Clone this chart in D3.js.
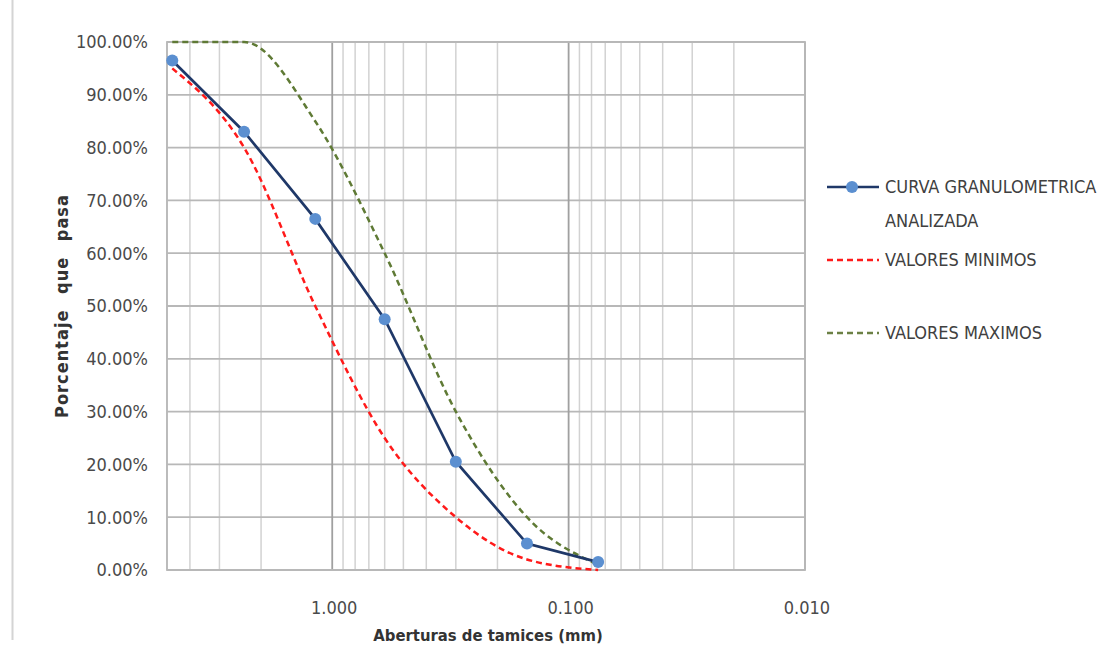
<!DOCTYPE html>
<html>
<head>
<meta charset="utf-8">
<script src="https://cdn.jsdelivr.net/npm/d3@7"></script>
<style>
  body { margin: 0; background: #fff; }
  text { font-family: "Liberation Sans Narrow", "DejaVu Sans Condensed", "Liberation Sans", sans-serif; }
</style>
</head>
<body>
<script>
// sieve openings (mm) and percent passing
var sieves = [4.75, 2.36, 1.18, 0.6, 0.3, 0.15, 0.075];
var curva = [96.5, 83, 66.5, 47.5, 20.5, 5, 1.5];
var minimos = [95, 80, 50, 25, 10, 2, 0];
var maximos = [100, 100, 85, 60, 30, 10, 1];
var xTickValues = [1, 0.1, 0.01];
var yTickValues = [0, 10, 20, 30, 40, 50, 60, 70, 80, 90, 100];
var legendLabels = [["CURVA GRANULOMETRICA", "ANALIZADA"], ["VALORES MINIMOS"], ["VALORES MAXIMOS"]];

var width = 1110, height = 645;
var pLeft = 167, pRight = 805, pTop = 42, pBottom = 570;

var svg = d3.select("body").append("svg")
  .attr("width", width)
  .attr("height", height);

// left frame line of the original picture
svg.append("line")
  .attr("x1", 12.5).attr("x2", 12.5)
  .attr("y1", 0).attr("y2", 640)
  .style("stroke", "#d4d4d4")
  .style("stroke-width", 2);

var x = d3.scaleLog().domain([5, 0.01]).range([pLeft, pRight]);
var y = d3.scaleLinear().domain([0, 100]).range([pBottom, pTop]);

// vertical grid, minor first then decades
var isDecade = function(v) { return Math.abs(Math.log10(v) - Math.round(Math.log10(v))) < 1e-9; };
var vt = x.ticks();
svg.append("g").selectAll("line")
    .data(vt.filter(function(v) { return !isDecade(v); }))
  .enter().append("line")
    .attr("x1", function(d) { return x(d); })
    .attr("x2", function(d) { return x(d); })
    .attr("y1", pTop).attr("y2", pBottom)
    .style("stroke", "#d2d2d2")
    .style("stroke-width", 1.5);

svg.append("g").selectAll("line")
    .data(yTickValues)
  .enter().append("line")
    .attr("x1", pLeft).attr("x2", pRight)
    .attr("y1", function(d) { return y(d); })
    .attr("y2", function(d) { return y(d); })
    .style("stroke", "#b8b8b8")
    .style("stroke-width", 1.8);

svg.append("g").selectAll("line")
    .data(vt.filter(isDecade))
  .enter().append("line")
    .attr("x1", function(d) { return x(d); })
    .attr("x2", function(d) { return x(d); })
    .attr("y1", pTop).attr("y2", pBottom)
    .style("stroke", "#a0a0a0")
    .style("stroke-width", 1.8);

svg.append("rect")
  .attr("x", pLeft).attr("y", pTop)
  .attr("width", pRight - pLeft).attr("height", pBottom - pTop)
  .style("fill", "none")
  .style("stroke", "#b8b8b8")
  .style("stroke-width", 1.8);

// tick labels
svg.append("g").selectAll("text")
    .data(yTickValues)
  .enter().append("text")
    .attr("x", 148)
    .attr("y", function(d) { return y(d); })
    .attr("dy", "0.35em")
    .style("text-anchor", "end")
    .style("font-size", "18px")
    .style("fill", "#4a4a4a")
    .text(function(d) { return d.toFixed(2) + "%"; });

svg.append("g").selectAll("text")
    .data(xTickValues)
  .enter().append("text")
    .attr("x", function(d) { return x(d) + 2; })
    .attr("y", 608)
    .attr("dy", "0.35em")
    .style("text-anchor", "middle")
    .style("font-size", "18px")
    .style("fill", "#4a4a4a")
    .text(function(d) { return d.toFixed(3); });

// axis titles
svg.append("text")
  .attr("x", 488).attr("y", 635)
  .attr("dy", "0.35em")
  .style("text-anchor", "middle")
  .style("font-size", "16.5px")
  .style("font-weight", "bold")
  .style("fill", "#333")
  .text("Aberturas de tamices (mm)");

svg.append("text")
  .attr("transform", "translate(62," + ((pTop + pBottom) / 2) + ") rotate(-90)")
  .attr("dy", "0.35em")
  .style("text-anchor", "middle")
  .style("font-size", "18px")
  .style("font-weight", "bold")
  .style("fill", "#333")
  .style("letter-spacing", "1px")
  .style("word-spacing", "9px")
  .text("Porcentaje que pasa");

// series
var pts = function(vals) { return sieves.map(function(s, i) { return [x(s), y(vals[i])]; }); };
var smooth = d3.line().curve(d3.curveMonotoneX);
var straight = d3.line();

svg.append("path")
  .attr("d", smooth(pts(minimos)))
  .style("fill", "none")
  .style("stroke", "#ff1a1a")
  .style("stroke-width", 2.5)
  .style("stroke-dasharray", "6,4");

svg.append("path")
  .attr("d", smooth(pts(maximos)))
  .style("fill", "none")
  .style("stroke", "#5f7a35")
  .style("stroke-width", 2.5)
  .style("stroke-dasharray", "6,4");

svg.append("path")
  .attr("d", straight(pts(curva)))
  .style("fill", "none")
  .style("stroke", "#1f3868")
  .style("stroke-width", 2.7);

svg.append("g").selectAll("circle")
    .data(pts(curva))
  .enter().append("circle")
    .attr("cx", function(d) { return d[0]; })
    .attr("cy", function(d) { return d[1]; })
    .attr("r", 6)
    .style("fill", "#5b8fd0");

// legend
var lg = svg.append("g");
var ly = [187, 260, 333];
var lstyles = [
  { color: "#1f3868", dash: null },
  { color: "#ff1a1a", dash: "6,4" },
  { color: "#6b8045", dash: "6,4" }
];
lstyles.forEach(function(s, i) {
  lg.append("line")
    .attr("x1", 827).attr("x2", 879)
    .attr("y1", ly[i]).attr("y2", ly[i])
    .style("stroke", s.color)
    .style("stroke-width", 2.7)
    .style("stroke-dasharray", s.dash);
  if (i === 0) {
    lg.append("circle").attr("cx", 852).attr("cy", ly[i]).attr("r", 6).style("fill", "#5b8fd0");
  }
  legendLabels[i].forEach(function(t, j) {
    lg.append("text")
      .attr("x", 885).attr("y", ly[i] + j * 34)
      .attr("dy", "0.35em")
      .style("font-size", "18px")
      .style("fill", "#404040")
      .text(t);
  });
});
</script>
</body>
</html>
